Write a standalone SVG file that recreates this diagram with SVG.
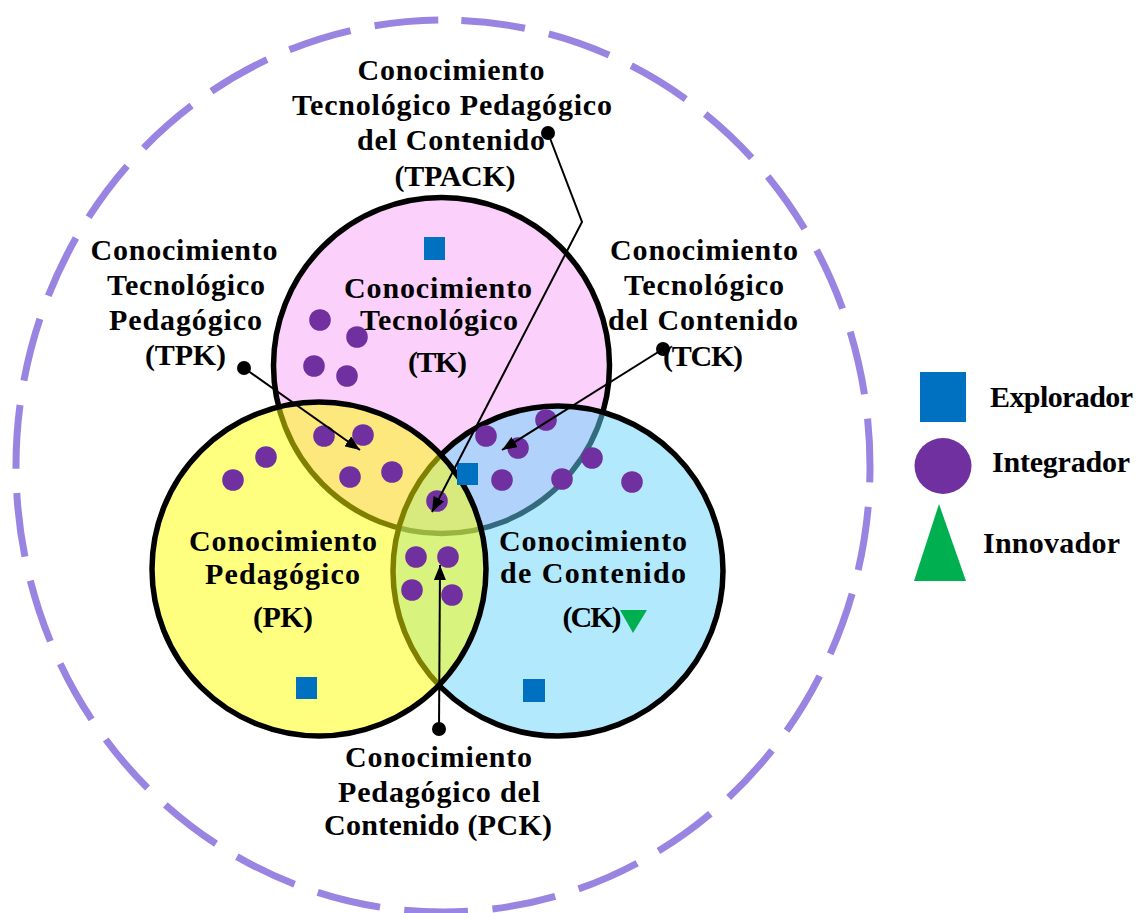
<svg xmlns="http://www.w3.org/2000/svg" width="1140" height="913" viewBox="0 0 1140 913">
<style>
.lbl{font-family:"Liberation Serif","Times New Roman",serif;font-weight:bold;font-size:30px;fill:#000;text-anchor:middle}
.leg{font-family:"Liberation Serif","Times New Roman",serif;font-weight:bold;font-size:30px;fill:#000}
.ring{stroke:#000;stroke-width:5.5}
.dot{fill:#7030a0}
.sq{fill:#0070c0}
.tri{fill:#00b050}
.con{fill:none;stroke:#000;stroke-width:2}
.end{fill:#000}
</style>
<defs>
<marker id="arr" markerUnits="userSpaceOnUse" markerWidth="16" markerHeight="12" refX="15" refY="6" orient="auto">
<path d="M0,0 L15,6 L0,12 Z" fill="#000"/>
</marker>
</defs>
<rect width="1140" height="913" fill="#fff"/>
<g id="outer">
<path d="M443,20 A427,446 0 1 1 443,912 A427,446 0 1 1 443,20" fill="none" stroke="#9a84e2" stroke-width="7" stroke-dasharray="64 24.5" stroke-dashoffset="70"/>
</g>
<g id="tk-circle"><circle cx="441.5" cy="365.5" r="168" fill="rgb(247,161,247)" fill-opacity="0.5" class="ring"/></g>
<g id="ck-circle"><circle cx="558" cy="571" r="165" fill="rgb(103,211,251)" fill-opacity="0.5" class="ring"/></g>
<g id="pk-circle"><circle cx="319" cy="569" r="167" fill="#ffff00" fill-opacity="0.5" class="ring"/></g>
<g id="markers">
<rect class="sq" x="424" y="237" width="21" height="23"/>
<rect class="sq" x="457" y="463" width="21" height="22"/>
<rect class="sq" x="296" y="677" width="21" height="22"/>
<rect class="sq" x="523" y="679" width="22" height="23"/>
<circle class="dot" cx="320" cy="320" r="10.8"/>
<circle class="dot" cx="357" cy="337" r="10.8"/>
<circle class="dot" cx="314" cy="366" r="10.8"/>
<circle class="dot" cx="347" cy="376" r="10.8"/>
<circle class="dot" cx="324" cy="436" r="10.8"/>
<circle class="dot" cx="363" cy="435" r="10.8"/>
<circle class="dot" cx="350" cy="477" r="10.8"/>
<circle class="dot" cx="392" cy="472" r="10.8"/>
<circle class="dot" cx="266" cy="457" r="10.8"/>
<circle class="dot" cx="233" cy="480" r="10.8"/>
<circle class="dot" cx="437" cy="501" r="10.8"/>
<circle class="dot" cx="486" cy="436" r="10.8"/>
<circle class="dot" cx="546" cy="420" r="10.8"/>
<circle class="dot" cx="518" cy="448" r="10.8"/>
<circle class="dot" cx="502" cy="480" r="10.8"/>
<circle class="dot" cx="562" cy="479" r="10.8"/>
<circle class="dot" cx="592" cy="458" r="10.8"/>
<circle class="dot" cx="632" cy="482" r="10.8"/>
<circle class="dot" cx="416" cy="557" r="10.8"/>
<circle class="dot" cx="448" cy="557" r="10.8"/>
<circle class="dot" cx="412" cy="590" r="10.8"/>
<circle class="dot" cx="452" cy="595" r="10.8"/>
<polygon class="tri" points="620,610 647,610 633,633"/>
</g>
<g id="tk-label">
<text class="lbl" x="438" y="298" textLength="188" lengthAdjust="spacing">Conocimiento</text>
<text class="lbl" x="439" y="330" textLength="158" lengthAdjust="spacing">Tecnológico</text>
<text class="lbl" x="437.5" y="372" textLength="59" lengthAdjust="spacing">(TK)</text>
</g>
<g id="pk-label">
<text class="lbl" x="283" y="551" textLength="188" lengthAdjust="spacing">Conocimiento</text>
<text class="lbl" x="282.5" y="584" textLength="155" lengthAdjust="spacing">Pedagógico</text>
<text class="lbl" x="283" y="627" textLength="60" lengthAdjust="spacing">(PK)</text>
</g>
<g id="ck-label">
<text class="lbl" x="593" y="551" textLength="188" lengthAdjust="spacing">Conocimiento</text>
<text class="lbl" x="593" y="583" textLength="186" lengthAdjust="spacing">de Contenido</text>
<text class="lbl" x="592" y="627" textLength="59" lengthAdjust="spacing">(CK)</text>
</g>
<g id="tpack-label">
<text class="lbl" x="451" y="80" textLength="187" lengthAdjust="spacing">Conocimiento</text>
<text class="lbl" x="452" y="115" textLength="320" lengthAdjust="spacing">Tecnológico Pedagógico</text>
<text class="lbl" x="451" y="150" textLength="188" lengthAdjust="spacing">del Contenido</text>
<text class="lbl" x="455" y="186" textLength="121" lengthAdjust="spacing">(TPACK)</text>
</g>
<g id="tpk-label">
<text class="lbl" x="184" y="260" textLength="187" lengthAdjust="spacing">Conocimiento</text>
<text class="lbl" x="186" y="295" textLength="158" lengthAdjust="spacing">Tecnológico</text>
<text class="lbl" x="185.5" y="330" textLength="153" lengthAdjust="spacing">Pedagógico</text>
<text class="lbl" x="185.5" y="365" textLength="81" lengthAdjust="spacing">(TPK)</text>
</g>
<g id="tck-label">
<text class="lbl" x="704" y="260" textLength="188" lengthAdjust="spacing">Conocimiento</text>
<text class="lbl" x="704" y="295" textLength="160" lengthAdjust="spacing">Tecnológico</text>
<text class="lbl" x="703" y="330" textLength="190" lengthAdjust="spacing">del Contenido</text>
<text class="lbl" x="703" y="366" textLength="80" lengthAdjust="spacing">(TCK)</text>
</g>
<g id="pck-label">
<text class="lbl" x="438.5" y="767" textLength="187" lengthAdjust="spacing">Conocimiento</text>
<text class="lbl" x="439" y="802" textLength="202" lengthAdjust="spacing">Pedagógico del</text>
<text class="lbl" x="438" y="835" textLength="228" lengthAdjust="spacing">Contenido (PCK)</text>
</g>
<g id="legend">
<rect class="sq" x="920" y="372" width="46" height="50"/>
<text class="leg" x="990" y="407" textLength="143" lengthAdjust="spacing">Explorador</text>
<ellipse class="dot" cx="943" cy="466" rx="28.5" ry="28"/>
<text class="leg" x="992" y="472" textLength="138" lengthAdjust="spacing">Integrador</text>
<polygon class="tri" points="939,504 914,581 966,581"/>
<text class="leg" x="983" y="553" textLength="137" lengthAdjust="spacing">Innovador</text>
</g>
<g id="connectors">
<polyline class="con" points="548,133 582,222 432,512" marker-end="url(#arr)"/>
<circle class="end" cx="548" cy="133" r="7"/>
<line class="con" x1="244" y1="368" x2="360" y2="450" marker-end="url(#arr)"/>
<circle class="end" cx="244" cy="368" r="7"/>
<line class="con" x1="663" y1="349" x2="502" y2="450" marker-end="url(#arr)"/>
<circle class="end" cx="663" cy="349" r="7"/>
<line class="con" x1="439" y1="729" x2="440" y2="565" marker-end="url(#arr)"/>
<circle class="end" cx="439" cy="729" r="7"/>
</g>
</svg>
